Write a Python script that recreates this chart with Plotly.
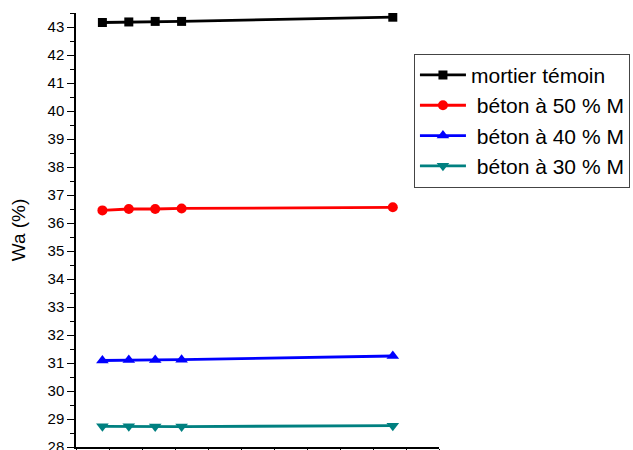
import plotly.graph_objects as go

# Measurement times (x) and water absorption Wa (%) for each mix
x_vals = [4, 8, 12, 16, 48]
mortier_temoin = [43.16, 43.18, 43.20, 43.20, 43.35]
beton_50 = [36.45, 36.50, 36.50, 36.52, 36.56]
beton_40 = [31.09, 31.11, 31.11, 31.12, 31.25]
beton_30 = [28.74, 28.74, 28.73, 28.73, 28.76]

series = [
    ("mortier témoin", mortier_temoin, "#000000", "square", 9),
    ("\u00a0béton à 50 % M", beton_50, "#ff0000", "circle", 10),
    ("\u00a0béton à 40 % M", beton_40, "#0000ff", "triangle-up", 11),
    ("\u00a0béton à 30 % M", beton_30, "#008080", "triangle-down", 11),
]

fig = go.Figure()
for name, ys, color, symbol, size in series:
    fig.add_trace(go.Scatter(
        x=x_vals, y=ys, name=name, mode="lines+markers",
        line=dict(color=color, width=2.8),
        marker=dict(symbol=symbol, size=size, color=color),
    ))

fig.update_layout(
    width=633, height=450,
    margin=dict(l=76, r=190, t=13, b=3),
    plot_bgcolor="white", paper_bgcolor="white",
    font=dict(family="Arial, Liberation Sans, sans-serif", color="black"),
    showlegend=True,
    legend=dict(
        x=0.931, y=0.906, xanchor="left", yanchor="top",
        bordercolor="#444444", borderwidth=1, bgcolor="white",
        font=dict(size=21, color="black"),
        itemwidth=46,
        tracegroupgap=0,
    ),
)

fig.update_xaxes(
    range=[0, 55], dtick=5, tick0=0,
    showline=True, linecolor="black", linewidth=1.5,
    ticks="outside", ticklen=6, tickwidth=1.2, tickcolor="black",
    showticklabels=False, showgrid=False, zeroline=False,
    automargin=False,
)

fig.update_yaxes(
    range=[28, 43.5], tickvals=list(range(28, 44)),
    showline=True, linecolor="black", linewidth=1.5,
    ticks="outside", ticklen=7, tickwidth=1.2, tickcolor="black",
    tickfont=dict(size=15), ticklabeloverflow="allow",
    minor=dict(dtick=0.5, ticks="outside", ticklen=4, tickcolor="black", tickwidth=1.2),
    title=dict(text="Wa (%)", font=dict(size=19), standoff=17),
    showgrid=False, zeroline=False,
    automargin=False,
)

fig.write_html("out.html")
